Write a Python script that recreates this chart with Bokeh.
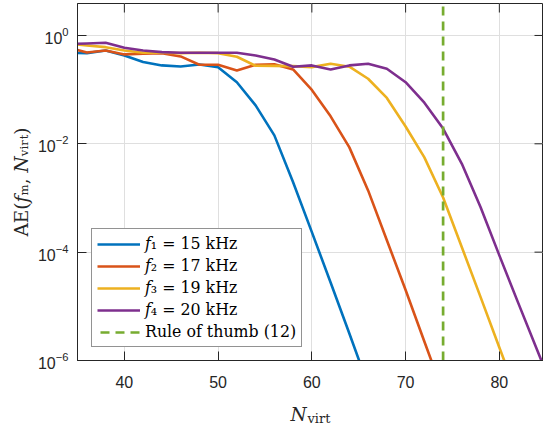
import math
from bokeh.plotting import figure
from bokeh.models import FixedTicker, Legend, LegendItem, Label, Range1d
from bokeh.embed import file_html
from bokeh.resources import INLINE

# ---------------- data ----------------
n_virt = [34, 36, 38, 40, 42, 44, 46, 48, 50, 52, 54, 56, 58, 60, 62, 64, 66,
          68, 70, 72, 74, 76, 78, 80, 82, 84, 86]

ae_f1 = [0.477, 0.472, 0.528, 0.428, 0.324, 0.280, 0.268, 0.292, 0.260, 0.137,
         0.0513, 0.0143, 1.95e-3, 2.34e-4, 2.75e-5, 3.16e-6, 3.47e-7]
ae_f2 = [0.600, 0.485, 0.528, 0.447, 0.459, 0.471, 0.410, 0.288, 0.288, 0.226,
         0.288, 0.295, 0.236, 0.0986, 0.0321, 8.59e-3, 1.38e-3, 1.66e-4,
         2.0e-5, 2.24e-6, 2.57e-7]
ae_f3 = [0.708, 0.653, 0.608, 0.528, 0.480, 0.480, 0.471, 0.480, 0.471, 0.405,
         0.276, 0.274, 0.272, 0.260, 0.301, 0.265, 0.159, 0.0703, 0.0209,
         5.62e-3, 1.02e-3, 1.23e-4, 1.48e-5, 1.74e-6, 2.09e-7]
ae_f4 = [0.697, 0.711, 0.733, 0.593, 0.528, 0.492, 0.480, 0.480, 0.480, 0.480,
         0.428, 0.361, 0.265, 0.280, 0.236, 0.280, 0.301, 0.243, 0.137, 0.0575,
         0.0191, 4.27e-3, 6.76e-4, 8.71e-5, 1.17e-5, 1.62e-6, 2.19e-7]

series_labels = ["𝑓₁ = 15 kHz", "𝑓₂ = 17 kHz", "𝑓₃ = 19 kHz", "𝑓₄ = 20 kHz"]
rule_label = "Rule of thumb (12)"
rule_of_thumb_n = 74
y_label = "AE(𝑓ₘ, 𝑁ᵥᵢᵣₜ)"

x_ticks = [40, 50, 60, 70, 80]
y_ticks = [1e-6, 1e-4, 1e-2, 1]

colors = ["#0072BD", "#D95319", "#EDB120", "#7E2F8E"]
rule_color = "#77AC30"

# ---------------- geometry ----------------
X0, X1 = 35, 84.71
Y0, Y1 = 1e-6, 3.89
FL, FR, FT, FB = 77, 543, 3, 360   # frame edges in page pixels
LT, LB = math.log10(Y1), math.log10(Y0)


def dx(px):
    return X0 + (px - FL) / (FR - FL) * (X1 - X0)


def dy(py):
    return 10 ** (LT - (py - FT) / (FB - FT) * (LT - LB))


axis_color = "#262626"
grid_color = "#dfdfdf"

p = figure(width=543, height=427, output_backend="svg", toolbar_location=None,
           y_axis_type="log", x_range=Range1d(X0, X1), y_range=Range1d(Y0, Y1),
           min_border_left=FL, min_border_right=0, min_border_top=FT,
           min_border_bottom=427 - FB)
p.outline_line_color = axis_color
p.background_fill_color = "white"

# axes
for ax in (p.xaxis[0], p.yaxis[0]):
    ax.axis_line_color = axis_color
    ax.major_tick_line_color = axis_color
    ax.major_tick_in = 9
    ax.major_tick_out = 0
    ax.minor_tick_in = 0
    ax.minor_tick_out = 0
    ax.major_label_text_font = "Liberation Sans"
    ax.major_label_text_font_size = "16px"
    ax.major_label_text_color = axis_color

p.xaxis[0].ticker = FixedTicker(ticks=x_ticks)
p.yaxis[0].ticker = FixedTicker(ticks=y_ticks)
p.xaxis[0].major_label_standoff = 15
p.yaxis[0].major_label_standoff = 9

yax = p.yaxis[0]
yax.axis_label = y_label
yax.axis_label_text_font = "DejaVu Serif"
yax.axis_label_text_font_style = "normal"
yax.axis_label_text_font_size = "18.5px"
yax.axis_label_text_color = axis_color
yax.axis_label_standoff = 3

p.xgrid.ticker = FixedTicker(ticks=x_ticks)
p.ygrid.ticker = FixedTicker(ticks=y_ticks)
for g in (p.xgrid[0], p.ygrid[0]):
    g.grid_line_color = grid_color
    g.grid_line_width = 1
    g.minor_grid_line_color = None

# inward ticks on the top and right edges of the box
p.segment(x0=x_ticks, y0=[Y1] * len(x_ticks), x1=x_ticks,
          y1=[dy(FT + 9)] * len(x_ticks), line_color=axis_color, line_width=1)
p.segment(x0=[X1] * len(y_ticks), y0=y_ticks, x1=[dx(FR - 9)] * len(y_ticks),
          y1=y_ticks, line_color=axis_color, line_width=1)

# series
renderers = []
for ys, c in zip([ae_f1, ae_f2, ae_f3, ae_f4], colors):
    r = p.line(n_virt[:len(ys)], ys, line_color=c, line_width=2.6,
               line_join="round")
    renderers.append(r)

rule_r = p.line([rule_of_thumb_n, rule_of_thumb_n], [Y1, Y0], line_color=rule_color,
                line_width=2.7, line_dash="9 6", line_dash_offset=-3)

items = [LegendItem(label=l, renderers=[r]) for l, r in zip(series_labels, renderers)]
items.append(LegendItem(label=rule_label, renderers=[rule_r]))
legend = Legend(items=items, location=(14, 13), label_text_font="DejaVu Serif",
                label_text_font_size="15.8px", label_text_color="black",
                border_line_color=axis_color, border_line_width=1,
                background_fill_color="white", background_fill_alpha=1,
                glyph_width=43, glyph_height=18, label_height=18, spacing=3,
                padding=5, margin=0, label_standoff=5)
p.add_layout(legend)

# x label built from pieces (italic N + upright subscript), in the panel below
txt = dict(text_font="DejaVu Serif", text_color=axis_color,
           text_align="left", text_baseline="alphabetic")
p.add_layout(Label(x=dx(290), y=dy(414), text="N", text_font_style="italic",
                   text_font_size="18.5px", **txt), "below")
p.add_layout(Label(x=dx(307), y=dy(418), text="virt", text_font_size="13px",
                   **txt), "below")

with open("out.html", "w") as f:
    f.write(file_html(p, INLINE))
